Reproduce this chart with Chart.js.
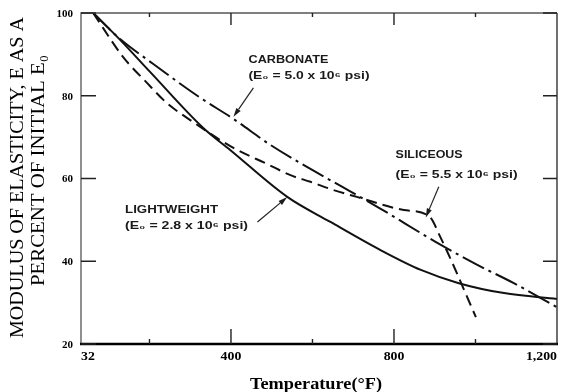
<!DOCTYPE html>
<html lang="en">
<head>
<meta charset="UTF-8">
<title>Modulus of elasticity vs temperature</title>
<style>
  html, body { margin:0; padding:0; background:#fff; }
  #chart { display:block; }
</style>
</head>
<body>
<canvas id="chart" width="565" height="392"></canvas>

<script src="https://cdn.jsdelivr.net/npm/chart.js"></script>
<script>
// temperature (°F) and modulus (% of initial) for each aggregate
const carbonateT = [62, 128, 202, 325, 406, 497, 595, 669, 760, 902, 1001, 1094, 1200];
const carbonateE = [100, 93.7, 88.2, 79.5, 74.4, 68.1, 62.3, 58.2, 53.1, 44.7, 39.3, 34.7, 28.9];

const siliceousT = [62, 86, 135, 194, 243, 293, 406, 489, 546, 595, 652, 711, 824, 885, 915, 1001];
const siliceousE = [100, 96.4, 89.4, 83.1, 78.2, 74.6, 67.4, 63.5, 60.8, 59.2, 57.2, 55.5, 52.4, 51.0, 45.6, 26.5];

const lightT = [62, 128, 202, 332, 398, 539, 644, 767, 866, 959, 1070, 1200];
const lightE = [100, 93.5, 85.7, 72.2, 66.9, 55.5, 49.5, 42.7, 37.9, 34.7, 32.3, 30.9];

// axis ticks
const xMajorTicks = [32, 400, 800, 1200];
const xMajorLabels = ["32", "400", "800", "1,200"];
const xMinorTicks = [200, 600, 1000];
const yTicks = [20, 40, 60, 80, 100];
const yLabels = ["20", "40", "60", "80", "100"];

const toPts = (xs, ys) => xs.map((x, i) => ({ x: x, y: ys[i] }));

// label text next to each curve: [text lines], text anchor (°F, %), arrow tail, arrow tip
const notes = [
  { lines: ["CARBONATE", "(E\u2080 = 5.0 x 10\u2076 psi)"], widths: [80, 121],
    at: [443, 87.9], gap: 3.9, tail: [455, 81.9], tip: [406, 74.9] },
  { lines: ["SILICEOUS", "(E\u2080 = 5.5 x 10\u2076 psi)"], widths: [67, 122],
    at: [804, 65.0], gap: 4.9, tail: [910, 58.0], tip: [878, 50.6] },
  { lines: ["LIGHTWEIGHT", "(E\u2080 = 2.8 x 10\u2076 psi)"], widths: [93, 123],
    at: [140, 51.7], gap: 3.9, tail: [465, 49.5], tip: [538, 55.5] }
];

// draw text squeezed/stretched to a given width
function fitText(ctx, text, x, y, w) {
  const m = ctx.measureText(text).width;
  ctx.save();
  ctx.translate(x, y);
  ctx.scale(w / m, 1);
  ctx.fillText(text, 0, 0);
  ctx.restore();
}

function arrow(ctx, x1, y1, x2, y2) {
  const a = Math.atan2(y2 - y1, x2 - x1);
  const len = 9, half = 2.6;
  ctx.beginPath();
  ctx.moveTo(x1, y1);
  ctx.lineTo(x2 - Math.cos(a) * len, y2 - Math.sin(a) * len);
  ctx.lineWidth = 1.2;
  ctx.stroke();
  ctx.beginPath();
  ctx.moveTo(x2, y2);
  ctx.lineTo(x2 - Math.cos(a) * len - Math.sin(a) * half, y2 - Math.sin(a) * len + Math.cos(a) * half);
  ctx.lineTo(x2 - Math.cos(a) * len + Math.sin(a) * half, y2 - Math.sin(a) * len - Math.cos(a) * half);
  ctx.closePath();
  ctx.fill();
}

const frame = {
  id: 'frame',
  afterDatasetsDraw(chart) {
    const ctx = chart.ctx;
    const xs = chart.scales.x, ys = chart.scales.y;
    const a = chart.chartArea;
    ctx.save();
    ctx.strokeStyle = '#111';
    ctx.fillStyle = '#111';
    ctx.setLineDash([]);

    // box
    ctx.lineWidth = 1.3;
    ctx.strokeStyle = '#555';
    ctx.beginPath();
    ctx.moveTo(a.left, a.bottom); ctx.lineTo(a.left, a.top); ctx.lineTo(a.right, a.top);
    ctx.stroke();
    ctx.strokeStyle = '#222';
    ctx.beginPath();
    ctx.moveTo(a.right, a.top); ctx.lineTo(a.right, a.bottom);
    ctx.stroke();
    ctx.lineWidth = 2.6;
    ctx.strokeStyle = '#000';
    ctx.beginPath();
    ctx.moveTo(a.left - 1, a.bottom); ctx.lineTo(a.right + 1, a.bottom);
    ctx.stroke();

    // tick marks, pointing inward
    ctx.lineWidth = 1.4;
    ctx.strokeStyle = '#222';
    ctx.beginPath();
    yTicks.forEach(v => {
      const y = ys.getPixelForValue(v);
      ctx.moveTo(a.left, y); ctx.lineTo(a.left + 15, y);
      ctx.moveTo(a.right, y); ctx.lineTo(a.right - 14, y);
    });
    xMajorTicks.slice(1, -1).forEach(v => {
      const x = xs.getPixelForValue(v);
      ctx.moveTo(x, a.bottom); ctx.lineTo(x, a.bottom - 15);
      ctx.moveTo(x, a.top); ctx.lineTo(x, a.top + 12);
    });
    xMinorTicks.forEach(v => {
      const x = xs.getPixelForValue(v);
      ctx.moveTo(x, a.bottom); ctx.lineTo(x, a.bottom - 5);
      ctx.moveTo(x, a.top); ctx.lineTo(x, a.top + 4);
    });
    ctx.stroke();

    // tick labels
    ctx.fillStyle = '#000';
    ctx.textBaseline = 'middle';
    ctx.font = 'bold 11px "Liberation Serif"';
    ctx.textAlign = 'right';
    yTicks.forEach((v, i) => ctx.fillText(yLabels[i], a.left - 8, ys.getPixelForValue(v) + 1));

    ctx.font = 'bold 12px "Liberation Serif"';
    xMajorTicks.forEach((v, i) => {
      const x = xs.getPixelForValue(v);
      const t = xMajorLabels[i];
      const w = ctx.measureText(t).width * 1.15;
      let left = x - w / 2;
      if (i === 0) left = a.left;
      if (i === xMajorTicks.length - 1) left = a.right - w;
      ctx.textAlign = 'left';
      fitText(ctx, t, left, a.bottom + 13, w);
    });

    // axis titles
    ctx.textAlign = 'left';
    ctx.textBaseline = 'alphabetic';
    ctx.font = 'bold 16px "Liberation Serif"';
    fitText(ctx, 'Temperature(\u00B0F)', 250, 389, 132);

    ctx.font = '19px "Liberation Serif"';
    ctx.save();
    ctx.translate(23, 338);
    ctx.rotate(-Math.PI / 2);
    fitText(ctx, 'MODULUS OF ELASTICITY, E AS A', 0, 0, 321);
    ctx.restore();
    ctx.save();
    ctx.translate(43.5, 286);
    ctx.rotate(-Math.PI / 2);
    fitText(ctx, 'PERCENT OF INITIAL E\u2080', 0, 0, 231);
    ctx.restore();

    // curve labels and arrows
    ctx.font = 'bold 10px "Liberation Sans"';
    ctx.fillStyle = '#1a1a1a';
    notes.forEach(n => {
      const x = xs.getPixelForValue(n.at[0]);
      n.lines.forEach((t, i) => {
        const y = ys.getPixelForValue(n.at[1] - i * n.gap);
        fitText(ctx, t, x, y, n.widths[i]);
      });
      arrow(ctx,
        xs.getPixelForValue(n.tail[0]), ys.getPixelForValue(n.tail[1]),
        xs.getPixelForValue(n.tip[0]), ys.getPixelForValue(n.tip[1]));
    });
    ctx.restore();
  }
};

const lineStyle = {
  showLine: true,
  pointRadius: 0,
  borderColor: '#111',
  borderWidth: 2,
  fill: false,
  cubicInterpolationMode: 'monotone'
};

new Chart(document.getElementById('chart').getContext('2d'), {
  type: 'scatter',
  data: {
    datasets: [
      Object.assign({ label: 'Carbonate', data: toPts(carbonateT, carbonateE), borderDash: [24, 5, 3, 5] }, lineStyle),
      Object.assign({ label: 'Siliceous', data: toPts(siliceousT, siliceousE), borderDash: [11, 6] }, lineStyle),
      Object.assign({ label: 'Lightweight', data: toPts(lightT, lightE) }, lineStyle)
    ]
  },
  options: {
    responsive: false,
    animation: false,
    layout: { padding: { left: 81, right: 8, top: 13, bottom: 48 } },
    plugins: { legend: { display: false }, tooltip: { enabled: false } },
    scales: {
      x: { type: 'linear', min: 32, max: 1200, display: false },
      y: { min: 20, max: 100, display: false }
    }
  },
  plugins: [frame]
});
</script>
</body>
</html>
